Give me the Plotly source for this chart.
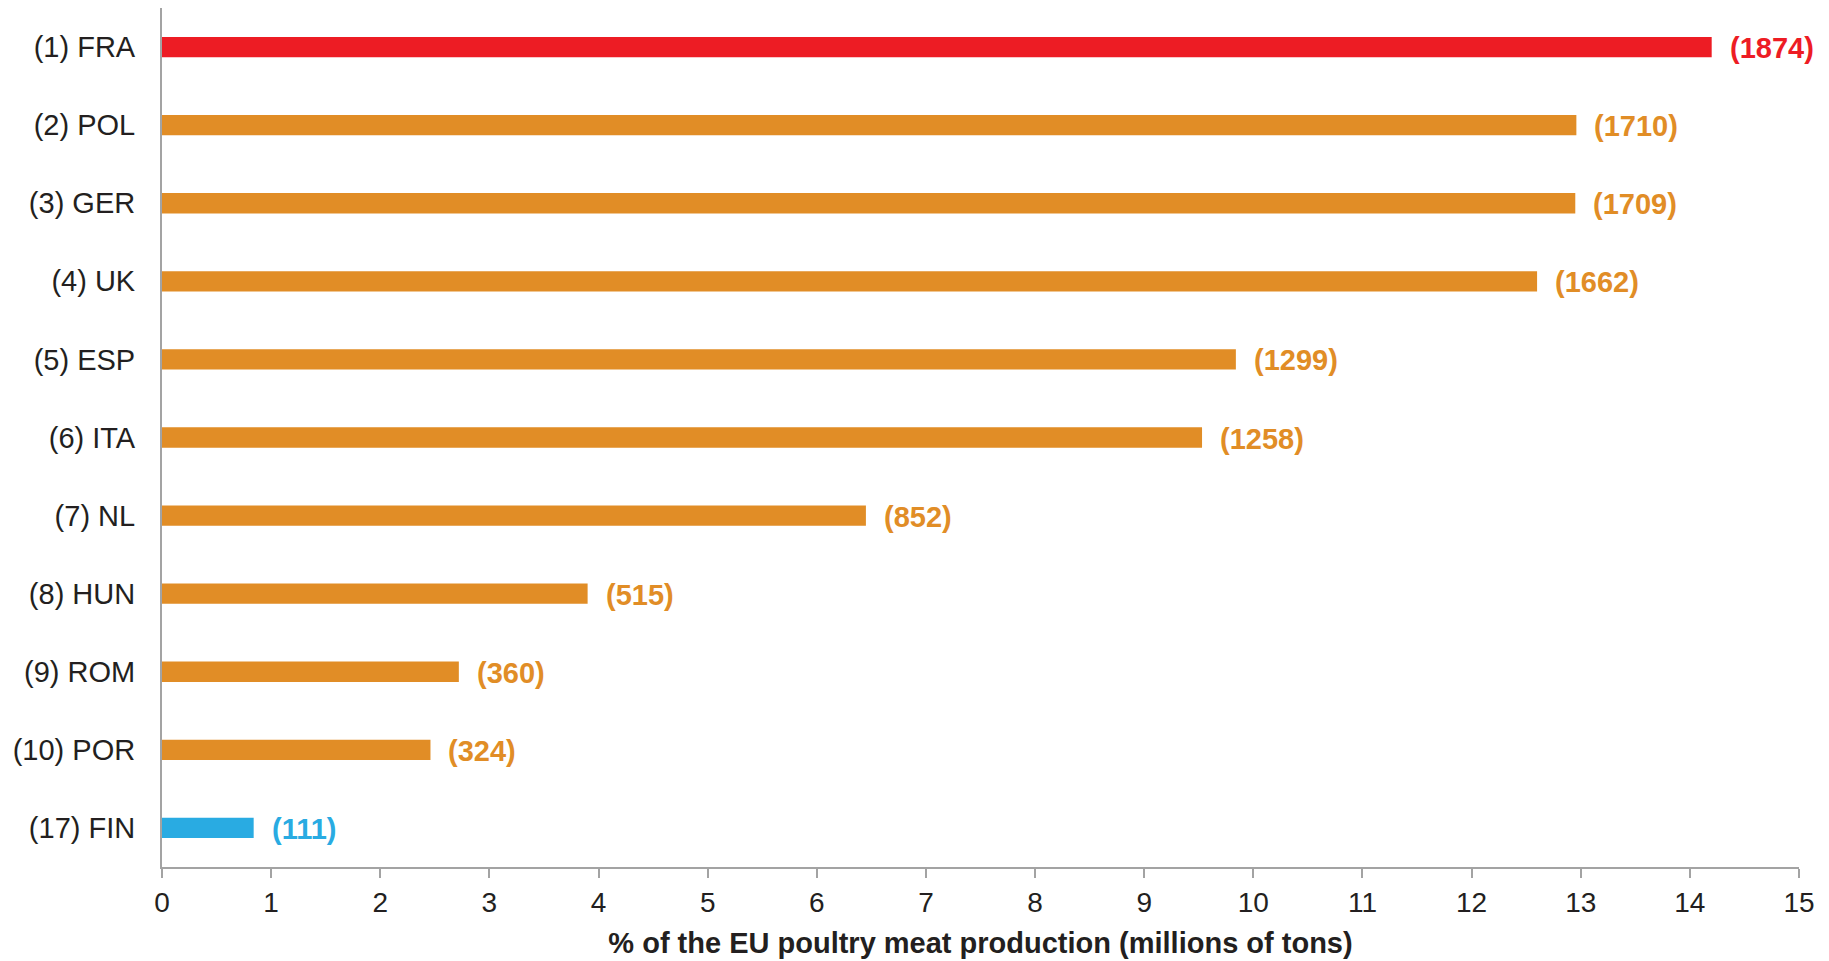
import plotly.graph_objects as go

countries = ["(1) FRA", "(2) POL", "(3) GER", "(4) UK", "(5) ESP", "(6) ITA",
             "(7) NL", "(8) HUN", "(9) ROM", "(10) POR", "(17) FIN"]
share_pct = [14.20, 12.96, 12.95, 12.60, 9.84, 9.53, 6.45, 3.90, 2.72, 2.46, 0.84]
tons_labels = ["(1874)", "(1710)", "(1709)", "(1662)", "(1299)", "(1258)",
               "(852)", "(515)", "(360)", "(324)", "(111)"]
groups = ["top", "mid", "mid", "mid", "mid", "mid", "mid", "mid", "mid", "mid", "fin"]
x_ticks = list(range(0, 16))

palette = {"top": "#ED1C24", "mid": "#E18D26", "fin": "#29ABE2"}
colors = [palette[g] for g in groups]
FONT = "Liberation Sans, Arial, sans-serif"

fig = go.Figure()
fig.add_trace(go.Bar(
    x=share_pct, y=countries, orientation="h",
    marker=dict(color=colors, line=dict(width=0)),
    width=0.26, hoverinfo="skip", showlegend=False,
))

for v, c, t, col in zip(share_pct, countries, tons_labels, colors):
    fig.add_annotation(
        x=v, y=c, text=t, showarrow=False, xanchor="left", yanchor="middle",
        xshift=16, yshift=-1,
        font=dict(family=FONT, size=29, color=col, weight="bold"),
    )

fig.update_layout(
    width=1829, height=961,
    margin=dict(l=162, r=30, t=8, b=94),
    paper_bgcolor="white", plot_bgcolor="white",
    font=dict(family=FONT, color="#231F20"),
    bargap=0.7,
)
fig.update_xaxes(
    range=[0, 15], tickvals=x_ticks, ticktext=[str(t) for t in x_ticks],
    showgrid=False, zeroline=False,
    showline=True, linecolor="#A3A3A3", linewidth=2,
    ticks="outside", ticklen=9, tickwidth=2, tickcolor="#A3A3A3",
    tickfont=dict(family=FONT, size=28, color="#231F20"),
    title=dict(text="% of the EU poultry meat production (millions of tons)",
               font=dict(family=FONT, size=29, color="#231F20", weight="bold"),
               standoff=16),
)
fig.update_yaxes(
    categoryorder="array", categoryarray=countries,
    range=[10.5, -0.5],
    showgrid=False, zeroline=False,
    showline=True, linecolor="#A3A3A3", linewidth=2,
    ticks="outside", ticklen=19, tickcolor="rgba(0,0,0,0)",
    tickfont=dict(family=FONT, size=29, color="#231F20"),
)

fig.write_html("out.html")
